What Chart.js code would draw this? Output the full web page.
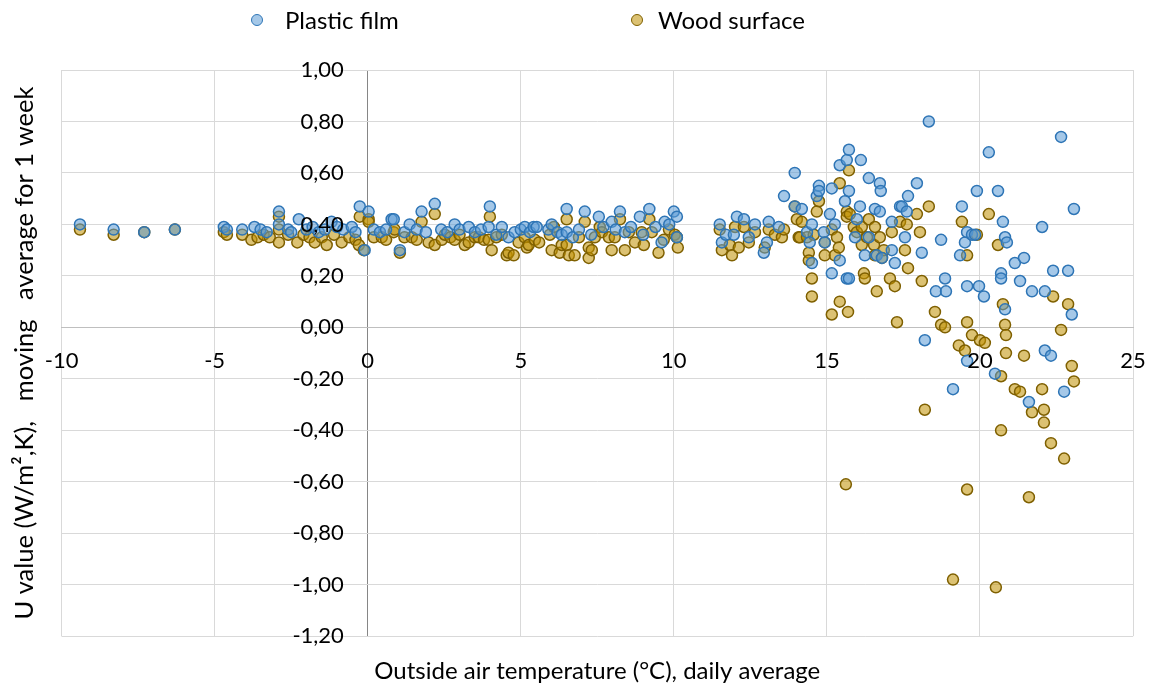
<!DOCTYPE html>
<html>
<head>
<meta charset="utf-8">
<script src="https://cdn.jsdelivr.net/npm/chart.js@4.4.1/dist/chart.umd.min.js"></script>
<style>
  html, body { margin: 0; padding: 0; background: #fff; }
  #wrap { position: relative; width: 1151px; height: 687px; }
  #legend { position: absolute; top: 0; left: 0; width: 1151px; height: 40px; font-family: Lato, sans-serif; font-size: 24px; color: #000; }
  .item { position: absolute; top: 6px; height: 28px; line-height: 28px; white-space: nowrap; }
  .dot { position: absolute; top: 8px; width: 10px; height: 10px; border-radius: 50%; border: 1.5px solid; }
  .item span { position: absolute; white-space: nowrap; }
</style>
</head>
<body>
<div id="wrap">
  <canvas id="chart" width="1151" height="687"></canvas>
  <div id="legend"></div>
</div>
<script>
// Plastic film: daily average outside temperature (°C) and U value
const plasticTemp = [-9.4, -8.3, -7.3, -6.3, -4.7, -4.6, -4.1, -3.7, -3.5, -3.3, -2.9, -2.9, -2.6, -2.5, -2.25, -2.0, -1.8, -1.6, -1.4, -1.18,
  -1.0, -0.8, -0.52, -0.4, -0.26, -0.1, 0.03, 0.2, 0.4, 0.6, 0.78, 0.85, 1.05, 1.2, 1.37, 1.6, 1.76, 1.9, 2.19, 2.4,
  2.6, 2.84, 3.0, 3.3, 3.5, 3.7, 3.95, 3.99, 4.2, 4.38, 4.6, 4.8, 5.0, 5.13, 5.3, 5.42, 5.52, 5.9, 6.01, 6.2,
  6.34, 6.5, 6.5, 6.7, 6.9, 7.09, 7.3, 7.55, 7.7, 7.97, 8.1, 8.24, 8.4, 8.6, 8.89, 9.0, 9.2, 9.4, 9.6, 9.7,
  9.85, 10.0, 10.1, 10.1, 11.5, 11.57, 11.7, 11.96, 12.06, 12.29, 12.45, 12.65, 12.94, 13.04, 13.1, 13.43, 13.6, 13.95, 13.95, 14.18,
  14.35, 14.44, 14.51, 14.51, 14.67, 14.74, 14.74, 14.9, 14.93, 15.1, 15.16, 15.16, 15.26, 15.42, 15.42, 15.59, 15.65, 15.65, 15.72, 15.72,
  15.72, 15.92, 15.98, 16.08, 16.11, 16.24, 16.37, 16.37, 16.57, 16.63, 16.73, 16.73, 16.76, 16.8, 17.12, 17.12, 17.22, 17.39, 17.45, 17.55,
  17.61, 17.65, 17.94, 18.1, 18.2, 18.33, 18.56, 18.73, 18.86, 18.89, 19.12, 19.35, 19.41, 19.51, 19.58, 19.58, 19.58, 19.74, 19.84, 19.9,
  19.97, 20.13, 20.29, 20.49, 20.59, 20.69, 20.69, 20.75, 20.82, 20.82, 20.88, 21.14, 21.31, 21.44, 21.6, 21.7, 22.03, 22.12, 22.12, 22.32,
  22.39, 22.65, 22.75, 22.88, 23.0, 23.07];
const plasticU = [0.40, 0.38, 0.37, 0.38, 0.39, 0.38, 0.38, 0.39, 0.38, 0.37, 0.45, 0.40, 0.38, 0.37, 0.42, 0.38, 0.39, 0.37, 0.38, 0.41,
  0.39, 0.38, 0.39, 0.37, 0.47, 0.30, 0.45, 0.38, 0.37, 0.38, 0.42, 0.42, 0.30, 0.37, 0.40, 0.38, 0.45, 0.37, 0.48, 0.38,
  0.37, 0.40, 0.38, 0.39, 0.37, 0.38, 0.39, 0.47, 0.36, 0.39, 0.35, 0.37, 0.38, 0.39, 0.37, 0.39, 0.39, 0.38, 0.40, 0.37,
  0.36, 0.46, 0.37, 0.35, 0.38, 0.45, 0.36, 0.43, 0.39, 0.41, 0.38, 0.45, 0.37, 0.39, 0.43, 0.36, 0.46, 0.39, 0.33, 0.41,
  0.40, 0.45, 0.43, 0.35, 0.40, 0.33, 0.36, 0.36, 0.43, 0.42, 0.35, 0.40, 0.29, 0.33, 0.41, 0.39, 0.51, 0.47, 0.60, 0.46,
  0.37, 0.33, 0.40, 0.25, 0.51, 0.55, 0.53, 0.37, 0.33, 0.44, 0.54, 0.21, 0.40, 0.63, 0.26, 0.49, 0.65, 0.19, 0.69, 0.53,
  0.19, 0.35, 0.42, 0.47, 0.65, 0.28, 0.58, 0.35, 0.46, 0.28, 0.56, 0.45, 0.53, 0.27, 0.41, 0.30, 0.25, 0.47, 0.47, 0.35,
  0.45, 0.51, 0.56, 0.29, -0.05, 0.80, 0.14, 0.34, 0.19, 0.14, -0.24, 0.28, 0.47, 0.33, 0.37, 0.16, -0.13, 0.36, 0.36, 0.53,
  0.16, 0.12, 0.68, -0.18, 0.53, 0.21, 0.19, 0.41, 0.35, 0.07, 0.33, 0.25, 0.18, 0.27, -0.29, 0.14, 0.39, 0.14, -0.09, -0.11,
  0.22, 0.74, -0.25, 0.22, 0.05, 0.46];

// Wood surface
const woodTemp = [-9.4, -8.3, -7.3, -6.3, -4.7, -4.6, -4.1, -3.8, -3.6, -3.4, -3.2, -2.9, -2.9, -2.9, -2.6, -2.3, -2.1, -1.9, -1.73, -1.5,
  -1.34, -1.1, -0.85, -0.6, -0.4, -0.29, -0.26, -0.13, 0.03, 0.03, 0.2, 0.46, 0.6, 0.85, 0.88, 1.05, 1.2, 1.44, 1.6, 1.76,
  1.99, 2.19, 2.19, 2.42, 2.52, 2.7, 2.84, 3.0, 3.17, 3.3, 3.5, 3.63, 3.8, 3.95, 3.99, 4.05, 4.2, 4.38, 4.54, 4.6,
  4.77, 4.93, 5.13, 5.2, 5.26, 5.46, 5.6, 5.95, 6.01, 6.08, 6.27, 6.34, 6.5, 6.5, 6.57, 6.76, 6.9, 7.09, 7.22, 7.22,
  7.32, 7.42, 7.58, 7.65, 7.88, 7.97, 8.07, 8.24, 8.4, 8.53, 8.73, 8.95, 9.02, 9.2, 9.28, 9.5, 9.67, 9.84, 10.03, 10.1,
  10.13, 11.5, 11.57, 11.83, 11.9, 12.0, 12.12, 12.29, 12.45, 12.65, 12.97, 13.1, 13.3, 13.53, 13.6, 13.95, 14.02, 14.08, 14.12, 14.18,
  14.35, 14.41, 14.41, 14.51, 14.51, 14.57, 14.67, 14.74, 14.93, 14.93, 15.16, 15.16, 15.26, 15.33, 15.39, 15.42, 15.42, 15.62, 15.65, 15.65,
  15.69, 15.72, 15.75, 15.88, 15.98, 16.14, 16.14, 16.21, 16.24, 16.31, 16.37, 16.54, 16.57, 16.57, 16.63, 16.73, 16.8, 16.86, 17.06, 17.12,
  17.22, 17.29, 17.39, 17.55, 17.61, 17.65, 17.94, 18.04, 18.1, 18.2, 18.33, 18.53, 18.73, 18.86, 19.12, 19.31, 19.41, 19.51, 19.58, 19.58,
  19.58, 19.74, 19.9, 20.0, 20.16, 20.29, 20.52, 20.59, 20.69, 20.69, 20.75, 20.82, 20.85, 20.85, 21.14, 21.31, 21.44, 21.6, 21.7, 22.03,
  22.09, 22.09, 22.32, 22.39, 22.65, 22.75, 22.88, 23.0, 23.07];
const woodU = [0.38, 0.36, 0.37, 0.38, 0.37, 0.36, 0.36, 0.34, 0.35, 0.36, 0.35, 0.43, 0.38, 0.33, 0.36, 0.33, 0.36, 0.35, 0.33, 0.35,
  0.32, 0.36, 0.33, 0.35, 0.34, 0.32, 0.43, 0.30, 0.42, 0.41, 0.35, 0.35, 0.34, 0.37, 0.38, 0.29, 0.35, 0.35, 0.34, 0.41,
  0.33, 0.44, 0.32, 0.34, 0.36, 0.35, 0.34, 0.36, 0.32, 0.33, 0.35, 0.35, 0.34, 0.34, 0.43, 0.30, 0.35, 0.36, 0.28, 0.29,
  0.28, 0.33, 0.35, 0.31, 0.32, 0.34, 0.33, 0.36, 0.30, 0.39, 0.29, 0.32, 0.42, 0.32, 0.28, 0.28, 0.35, 0.41, 0.31, 0.27,
  0.30, 0.35, 0.39, 0.37, 0.35, 0.30, 0.35, 0.42, 0.30, 0.37, 0.33, 0.37, 0.32, 0.42, 0.37, 0.29, 0.34, 0.38, 0.36, 0.35,
  0.31, 0.38, 0.30, 0.32, 0.28, 0.39, 0.31, 0.39, 0.33, 0.37, 0.31, 0.38, 0.36, 0.35, 0.38, 0.47, 0.42, 0.35, 0.35, 0.41,
  0.35, 0.29, 0.26, 0.19, 0.12, 0.36, 0.45, 0.49, 0.33, 0.28, 0.38, 0.05, 0.28, 0.35, 0.31, 0.56, 0.10, -0.61, 0.45, 0.43,
  0.06, 0.61, 0.44, 0.39, 0.37, 0.39, 0.32, 0.21, 0.19, 0.35, 0.42, 0.32, 0.39, 0.28, 0.14, 0.35, 0.27, 0.30, 0.19, 0.37,
  0.16, 0.02, 0.41, 0.30, 0.40, 0.23, 0.44, 0.37, 0.18, -0.32, 0.47, 0.06, 0.01, 0.00, -0.98, -0.07, 0.41, -0.09, 0.28, 0.02,
  -0.63, -0.03, 0.36, -0.05, -0.06, 0.44, -1.01, 0.32, -0.19, -0.40, 0.09, 0.01, -0.03, -0.10, -0.24, -0.25, -0.11, -0.66, -0.33, -0.24,
  -0.32, -0.37, -0.45, 0.12, -0.01, -0.51, 0.09, -0.15, -0.21];

const seriesNames = ['Plastic film', 'Wood surface'];
const xTicks = { min: -10, max: 25, step: 5 };
const yTicks = { min: -1.2, max: 1.0, step: 0.2 };

const fillColors = ['rgba(91,155,213,0.55)', 'rgba(191,144,0,0.55)'];
const lineColors = ['#2e75b6', '#7f6000'];

function toPoints(xs, ys) {
  return xs.map((x, i) => ({ x: x, y: ys[i] }));
}

Chart.defaults.font.family = 'Lato, sans-serif';
Chart.defaults.font.size = 22;
Chart.defaults.color = '#000';

// legend (html)
const legend = document.getElementById('legend');
const legendX = [251, 631];
const legendTextX = [34, 27];
seriesNames.forEach((name, i) => {
  const item = document.createElement('div');
  item.className = 'item';
  item.style.left = legendX[i] + 'px';
  item.innerHTML = '<div class="dot" style="left:0;background:' + fillColors[i] + ';border-color:' + lineColors[i] + '"></div>' +
    '<span style="left:' + legendTextX[i] + 'px">' + name + '</span>';
  legend.appendChild(item);
});

const fmt = v => (Math.abs(v) < 1e-9 ? 0 : v).toFixed(2).replace('.', ',');

new Chart(document.getElementById('chart'), {
  type: 'scatter',
  data: {
    datasets: [
      {
        label: seriesNames[0],
        data: toPoints(plasticTemp, plasticU),
        backgroundColor: fillColors[0],
        borderColor: lineColors[0],
        borderWidth: 1.5,
        pointRadius: 5.5,
        xAxisID: 'x',
        yAxisID: 'y'
      },
      {
        label: seriesNames[1],
        data: toPoints(woodTemp, woodU),
        backgroundColor: fillColors[1],
        borderColor: lineColors[1],
        borderWidth: 1.5,
        pointRadius: 5.5,
        xAxisID: 'x',
        yAxisID: 'y'
      }
    ]
  },
  options: {
    responsive: false,
    animation: false,
    layout: { padding: { left: 0, right: 18, top: 70, bottom: 0 } },
    plugins: {
      legend: { display: false },
      tooltip: { enabled: false }
    },
    scales: {
      x: {
        type: 'linear',
        position: { y: 0 },
        min: xTicks.min,
        max: xTicks.max,
        ticks: { stepSize: xTicks.step, padding: 0, z: 1, color: '#000' },
        // the vertical axis line at 0 °C is a darker grid line
        grid: {
          color: c => (c.tick && c.tick.value === 0 ? '#868686' : '#d9d9d9'),
          lineWidth: 1,
          drawTicks: true,
          tickLength: 20,
          tickColor: 'rgba(0,0,0,0)'
        },
        border: { color: '#bfbfbf', width: 1 }
      },
      y: {
        type: 'linear',
        // labels end a little left of the 0 °C line
        position: { x: -0.78 },
        min: yTicks.min,
        max: yTicks.max,
        ticks: { stepSize: yTicks.step, z: 1, color: '#000', callback: fmt },
        grid: {
          color: c => (c.tick && c.tick.value === 0 ? '#bfbfbf' : '#d9d9d9'),
          lineWidth: 1,
          drawTicks: false
        },
        border: { display: false }
      },
      yTitle: {
        type: 'linear',
        position: 'left',
        ticks: { display: false },
        grid: { display: false, drawTicks: false },
        border: { display: false },
        title: {
          display: true,
          text: 'U value (W/m²,K),   moving   average for 1 week',
          color: '#000',
          font: { size: 25.5 },
          padding: { top: 9, bottom: 22 }
        }
      },
      xTitle: {
        type: 'linear',
        position: 'bottom',
        ticks: { display: false },
        grid: { display: false, drawTicks: false },
        border: { display: false },
        title: {
          display: true,
          text: 'Outside air temperature (°C), daily average',
          color: '#000',
          font: { size: 24 },
          padding: { top: 21, bottom: 1 }
        }
      }
    }
  }
});
</script>
</body>
</html>
